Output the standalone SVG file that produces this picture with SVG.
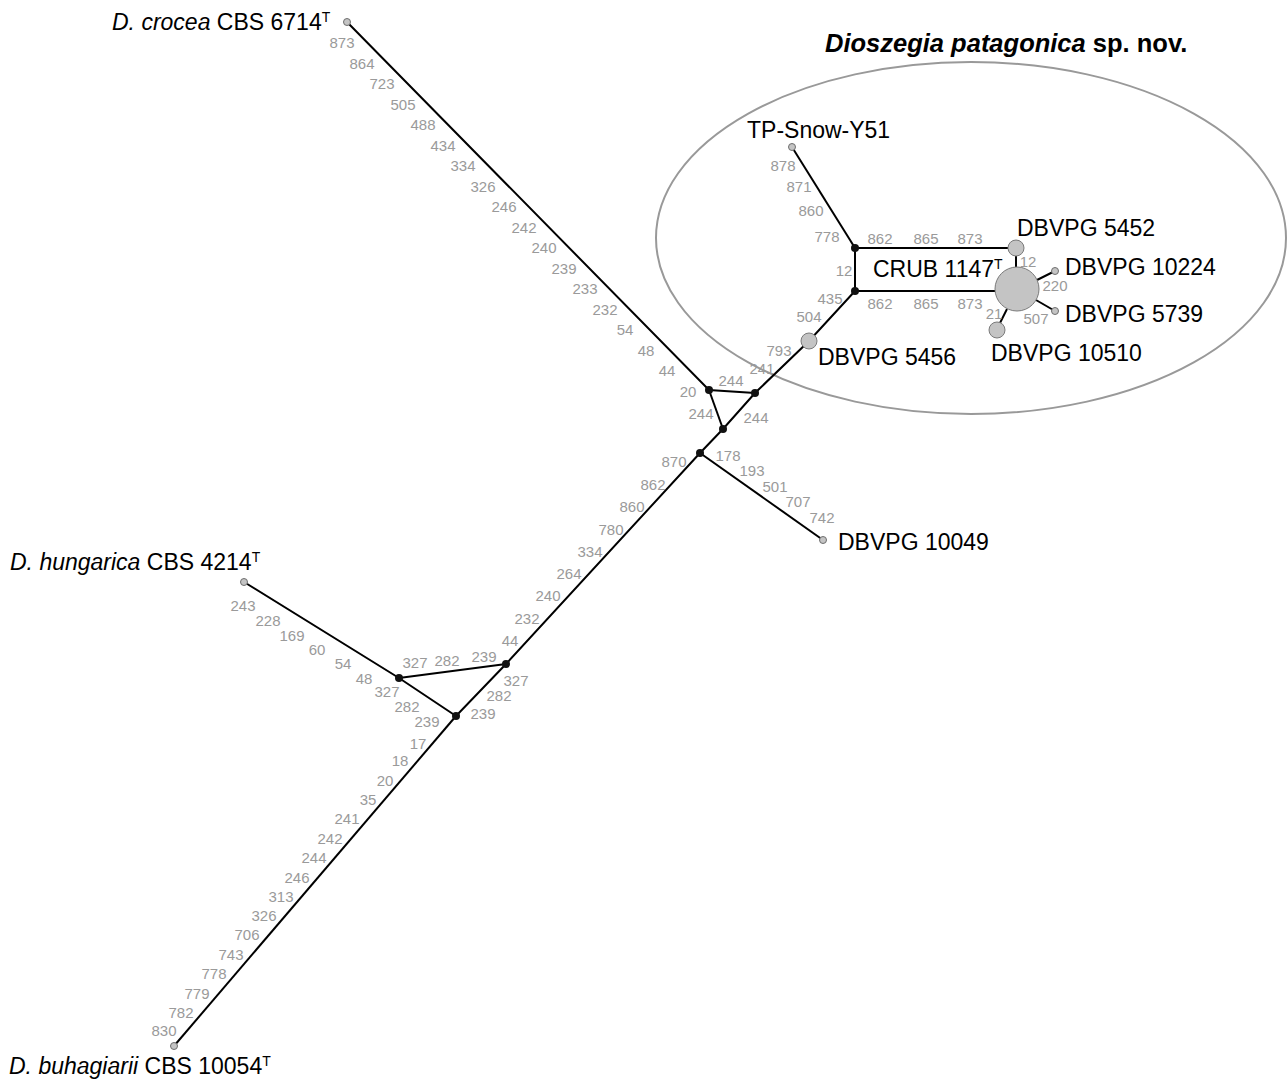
<svg xmlns="http://www.w3.org/2000/svg" width="1288" height="1081" viewBox="0 0 1288 1081">
  <style>
    .edge { stroke: #000; stroke-width: 2; fill: none; }
    .hull { stroke: #999; stroke-width: 2; fill: none; }
    .mut { font-family: "Liberation Sans", Arial, sans-serif; font-size: 15px; fill: #9a9a9a; text-anchor: middle; }
    .lbl { font-family: "Liberation Sans", Arial, sans-serif; font-size: 23px; fill: #000; }
    .sup { font-size: 14px; }
    .title { font-family: "Liberation Sans", Arial, sans-serif; font-size: 25.5px; font-weight: bold; fill: #000; }
    .tip { fill: #c4c4c4; stroke: #6e6e6e; stroke-width: 1; }
    .hap { fill: #c4c4c4; stroke: #7a7a7a; stroke-width: 1; }
    .med { fill: #111; }
  </style>

  <!-- species group outline -->
  <ellipse class="hull" cx="971" cy="238" rx="315" ry="176"/>
  <text class="title" x="825" y="52"><tspan font-style="italic">Dioszegia patagonica</tspan> sp. nov.</text>

  <!-- network edges -->
  <g id="connectors">
    <path class="edge" d="M456,716 L506,664 L700,453 L723,429 L755,393 L809,341 L855,291"/>
    <path class="edge" d="M174,1046 L456,716"/>
    <path class="edge" d="M244,582 L399,678 L456,716"/>
    <path class="edge" d="M399,678 L506,664"/>
    <path class="edge" d="M347,22 L709,390 L755,393"/>
    <path class="edge" d="M709,390 L723,429"/>
    <path class="edge" d="M700,453 L823,540"/>
    <path class="edge" d="M855,248 L792,147"/>
    <path class="edge" d="M855,248 L855,291"/>
    <path class="edge" d="M855,248 L1008,248"/>
    <path class="edge" d="M855,291 L995,291"/>
    <path class="edge" d="M1016,256 L1016,267"/>
    <path class="edge" d="M1037,280 L1055,271"/>
    <path class="edge" d="M1036,300 L1055,311"/>
    <path class="edge" d="M1007,309 L1000,323"/>
  </g>

  <!-- mutation positions along edges -->
  <g id="mutations">
    <!-- crocea branch -->
    <text class="mut" x="342" y="48">873</text>
    <text class="mut" x="362" y="69">864</text>
    <text class="mut" x="382" y="89">723</text>
    <text class="mut" x="403" y="110">505</text>
    <text class="mut" x="423" y="130">488</text>
    <text class="mut" x="443" y="151">434</text>
    <text class="mut" x="463" y="171">334</text>
    <text class="mut" x="483" y="192">326</text>
    <text class="mut" x="504" y="212">246</text>
    <text class="mut" x="524" y="233">242</text>
    <text class="mut" x="544" y="253">240</text>
    <text class="mut" x="564" y="274">239</text>
    <text class="mut" x="585" y="294">233</text>
    <text class="mut" x="605" y="315">232</text>
    <text class="mut" x="625" y="335">54</text>
    <text class="mut" x="646" y="356">48</text>
    <text class="mut" x="667" y="376">44</text>
    <text class="mut" x="688" y="397">20</text>
    <!-- central reticulation -->
    <text class="mut" x="731" y="386">244</text>
    <text class="mut" x="701" y="419">244</text>
    <text class="mut" x="756" y="423">244</text>
    <text class="mut" x="762" y="374">241</text>
    <text class="mut" x="779" y="356">793</text>
    <text class="mut" x="809" y="322">504</text>
    <text class="mut" x="830" y="304">435</text>
    <!-- TP-Snow-Y51 branch -->
    <text class="mut" x="783" y="171">878</text>
    <text class="mut" x="799" y="192">871</text>
    <text class="mut" x="811" y="216">860</text>
    <text class="mut" x="827" y="242">778</text>
    <!-- patagonica core -->
    <text class="mut" x="880" y="244">862</text>
    <text class="mut" x="926" y="244">865</text>
    <text class="mut" x="970" y="244">873</text>
    <text class="mut" x="880" y="309">862</text>
    <text class="mut" x="926" y="309">865</text>
    <text class="mut" x="970" y="309">873</text>
    <text class="mut" x="844" y="276">12</text>
    <text class="mut" x="1028" y="267">12</text>
    <text class="mut" x="1055" y="291">220</text>
    <text class="mut" x="994" y="319">21</text>
    <text class="mut" x="1036" y="324">507</text>
    <!-- DBVPG 10049 branch -->
    <text class="mut" x="728" y="461">178</text>
    <text class="mut" x="752" y="476">193</text>
    <text class="mut" x="775" y="492">501</text>
    <text class="mut" x="798" y="507">707</text>
    <text class="mut" x="822" y="523">742</text>
    <!-- trunk -->
    <text class="mut" x="674" y="467">870</text>
    <text class="mut" x="653" y="490">862</text>
    <text class="mut" x="632" y="512">860</text>
    <text class="mut" x="611" y="535">780</text>
    <text class="mut" x="590" y="557">334</text>
    <text class="mut" x="569" y="579">264</text>
    <text class="mut" x="548" y="601">240</text>
    <text class="mut" x="527" y="624">232</text>
    <text class="mut" x="510" y="646">44</text>
    <!-- hungarica reticulation -->
    <text class="mut" x="415" y="668">327</text>
    <text class="mut" x="447" y="666">282</text>
    <text class="mut" x="484" y="662">239</text>
    <text class="mut" x="516" y="686">327</text>
    <text class="mut" x="499" y="701">282</text>
    <text class="mut" x="483" y="719">239</text>
    <text class="mut" x="387" y="697">327</text>
    <text class="mut" x="407" y="712">282</text>
    <text class="mut" x="427" y="727">239</text>
    <!-- hungarica branch -->
    <text class="mut" x="243" y="611">243</text>
    <text class="mut" x="268" y="626">228</text>
    <text class="mut" x="292" y="641">169</text>
    <text class="mut" x="317" y="655">60</text>
    <text class="mut" x="343" y="669">54</text>
    <text class="mut" x="364" y="684">48</text>
    <!-- buhagiarii branch -->
    <text class="mut" x="418" y="749">17</text>
    <text class="mut" x="400" y="766">18</text>
    <text class="mut" x="385" y="786">20</text>
    <text class="mut" x="368" y="805">35</text>
    <text class="mut" x="347" y="824">241</text>
    <text class="mut" x="330" y="844">242</text>
    <text class="mut" x="314" y="863">244</text>
    <text class="mut" x="297" y="883">246</text>
    <text class="mut" x="281" y="902">313</text>
    <text class="mut" x="264" y="921">326</text>
    <text class="mut" x="247" y="940">706</text>
    <text class="mut" x="231" y="960">743</text>
    <text class="mut" x="214" y="979">778</text>
    <text class="mut" x="197" y="999">779</text>
    <text class="mut" x="181" y="1018">782</text>
    <text class="mut" x="164" y="1036">830</text>
  </g>

  <!-- median vectors -->
  <g id="median-vectors">
    <circle class="med" cx="709" cy="390" r="4"/>
    <circle class="med" cx="755" cy="393" r="4"/>
    <circle class="med" cx="723" cy="429" r="4"/>
    <circle class="med" cx="700" cy="453" r="4"/>
    <circle class="med" cx="855" cy="248" r="4"/>
    <circle class="med" cx="855" cy="291" r="4"/>
    <circle class="med" cx="399" cy="678" r="4"/>
    <circle class="med" cx="506" cy="664" r="4"/>
    <circle class="med" cx="456" cy="716" r="4"/>
  </g>

  <g id="node-crocea">
    <circle class="tip" cx="347" cy="22" r="3.5"/>
    <text class="lbl" x="112" y="30"><tspan font-style="italic">D. crocea</tspan> CBS 6714<tspan class="sup" dy="-8">T</tspan></text>
  </g>
  <g id="node-hungarica">
    <circle class="tip" cx="244" cy="582" r="3.5"/>
    <text class="lbl" x="10" y="570"><tspan font-style="italic">D. hungarica</tspan> CBS 4214<tspan class="sup" dy="-8">T</tspan></text>
  </g>
  <g id="node-buhagiarii">
    <circle class="tip" cx="174" cy="1046" r="3.5"/>
    <text class="lbl" x="9" y="1074"><tspan font-style="italic">D. buhagiarii</tspan> CBS 10054<tspan class="sup" dy="-8">T</tspan></text>
  </g>
  <g id="node-10049">
    <circle class="tip" cx="823" cy="540" r="3.5"/>
    <text class="lbl" x="838" y="550">DBVPG 10049</text>
  </g>
  <g id="node-tpsnow">
    <circle class="tip" cx="792" cy="147" r="3.5"/>
    <text class="lbl" x="747" y="138">TP-Snow-Y51</text>
  </g>
  <g id="node-5456">
    <circle class="hap" cx="809" cy="341" r="8"/>
    <text class="lbl" x="818" y="365">DBVPG 5456</text>
  </g>
  <g id="node-5452">
    <circle class="hap" cx="1016" cy="248" r="8"/>
    <text class="lbl" x="1017" y="236">DBVPG 5452</text>
  </g>
  <g id="node-crub">
    <circle class="hap" cx="1017" cy="289" r="22"/>
    <text class="lbl" x="873" y="277">CRUB 1147<tspan class="sup" dy="-8">T</tspan></text>
  </g>
  <g id="node-10224">
    <circle class="tip" cx="1055" cy="271" r="3.5"/>
    <text class="lbl" x="1065" y="275">DBVPG 10224</text>
  </g>
  <g id="node-5739">
    <circle class="tip" cx="1055" cy="311" r="3.5"/>
    <text class="lbl" x="1065" y="322">DBVPG 5739</text>
  </g>
  <g id="node-10510">
    <circle class="hap" cx="997" cy="330" r="8"/>
    <text class="lbl" x="991" y="361">DBVPG 10510</text>
  </g>
</svg>
